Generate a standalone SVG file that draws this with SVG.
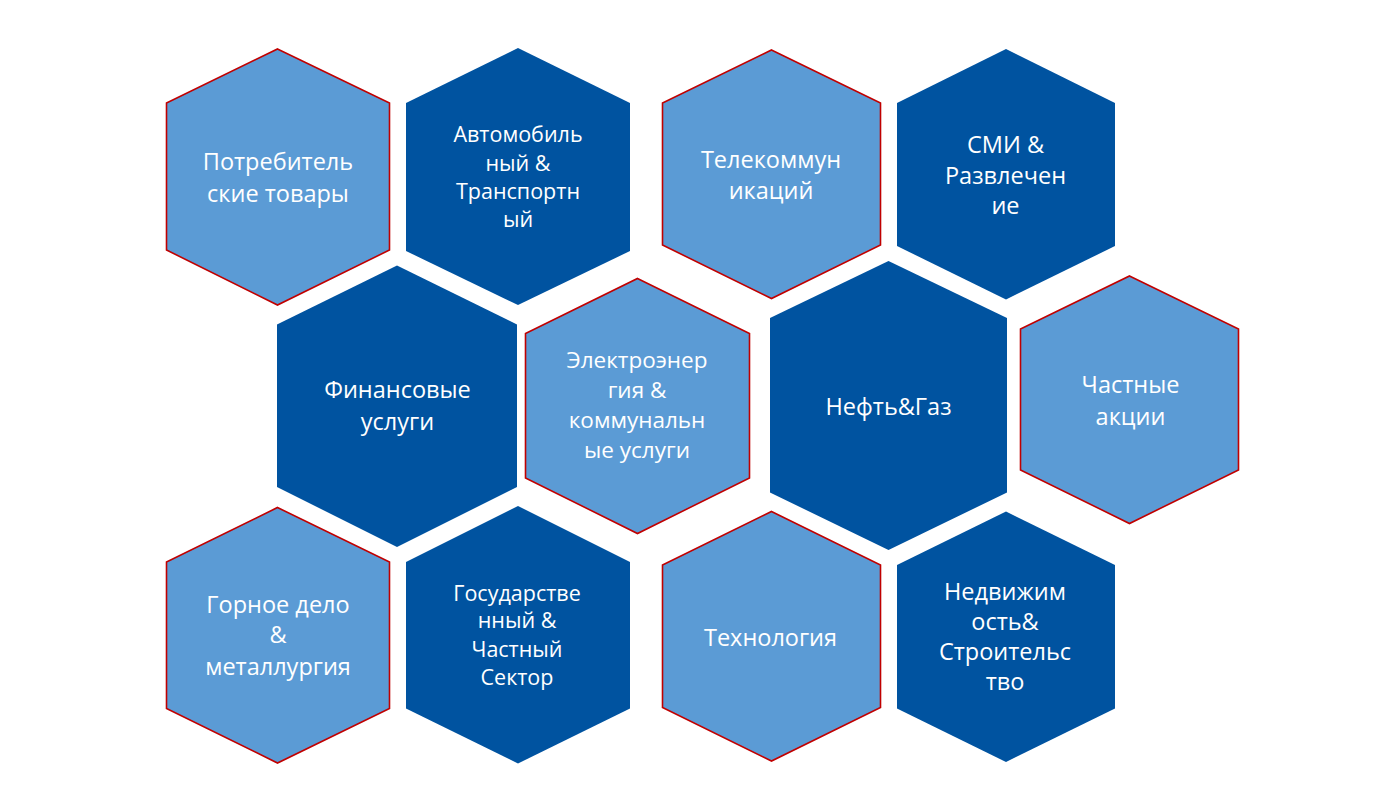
<svg xmlns="http://www.w3.org/2000/svg" width="1400" height="811" viewBox="0 0 1400 811">
<style>
.light{fill:#5B9BD5;stroke:#C00000;stroke-width:1.6}
.dark{fill:#0053A0;stroke:none}
text{font-family:"Open Sans","Noto Sans","DejaVu Sans",sans-serif;fill:#fff;text-anchor:middle;font-size:23.5px}
.s{font-size:21.5px}
.m{font-size:22.5px}
</style>
<rect width="1400" height="811" fill="#fff"/>
<g id="n1"><polygon class="light" points="277.5,49 389.5,103 389.5,250 277.5,305 166.5,250 166.5,103"/>
<text x="278" y="170">Потребитель</text><text x="278" y="201.7">ские товары</text></g>
<g id="n2"><polygon class="dark" points="518,48 630,103 630,251 518,305 406,251 406,103"/>
<text class="s" x="518" y="141.7">Автомобиль</text><text class="s" x="518" y="170.7">ный &amp;</text><text class="s" x="518" y="199.3">Транспортн</text><text class="s" x="518" y="226.7">ый</text></g>
<g id="n3"><polygon class="light" points="771.5,50 880.5,103 880.5,245 771.5,298.5 662.5,245 662.5,103"/>
<text x="771" y="168.3">Телекоммун</text><text x="771" y="199.3">икаций</text></g>
<g id="n4"><polygon class="dark" points="1006,49 1115,103 1115,246 1006,299.5 897,246 897,103"/>
<text x="1005.5" y="153.3">СМИ &amp;</text><text x="1005.5" y="184">Развлечен</text><text x="1005.5" y="214">ие</text></g>
<g id="n5"><polygon class="dark" points="397,265.5 517,324.5 517,487 397,547 277,487 277,324.5"/>
<text x="397.5" y="398.3">Финансовые</text><text x="397.5" y="430">услуги</text></g>
<g id="n6"><polygon class="light" points="637.5,278.5 749.5,333.5 749.5,478 637.5,533.5 525.5,478 525.5,333.5"/>
<text class="m" x="637" y="368">Электроэнер</text><text class="m" x="637" y="398">гия &amp;</text><text class="m" x="637" y="428">коммунальн</text><text class="m" x="637" y="458">ые услуги</text></g>
<g id="n7"><polygon class="dark" points="888.5,261 1007,318 1007,492.5 888.5,550 770,492.5 770,318"/>
<text x="888.5" y="415">Нефть&amp;Газ</text></g>
<g id="n8"><polygon class="light" points="1129.5,276 1238.5,329 1238.5,470 1129.5,523.5 1020.5,470 1020.5,329"/>
<text x="1130.5" y="393.3">Частные</text><text x="1130.5" y="425">акции</text></g>
<g id="n9"><polygon class="light" points="277.5,507.5 389.5,562 389.5,708.5 277.5,763 166.5,708.5 166.5,562"/>
<text x="278" y="612.7">Горное дело</text><text x="278" y="643.3">&amp;</text><text x="278" y="675">металлургия</text></g>
<g id="n10"><polygon class="dark" points="518,506 630,562 630,708.5 518,763.5 406,708.5 406,562"/>
<text class="s" x="517" y="600.7">Государстве</text><text class="s" x="517" y="628.3">нный &amp;</text><text class="s" x="517" y="656.7">Частный</text><text class="s" x="517" y="685">Сектор</text></g>
<g id="n11"><polygon class="light" points="771.5,511.5 880.5,565 880.5,707.5 771.5,761 662.5,707.5 662.5,565"/>
<text x="770.5" y="645.7">Технология</text></g>
<g id="n12"><polygon class="dark" points="1006,511.5 1115,565 1115,708.5 1006,762 897,708.5 897,565"/>
<text x="1005" y="600">Недвижим</text><text x="1005" y="630">ость&amp;</text><text x="1005" y="660">Строительс</text><text x="1005" y="690">тво</text></g>
<g id="connectors"></g>
</svg>
